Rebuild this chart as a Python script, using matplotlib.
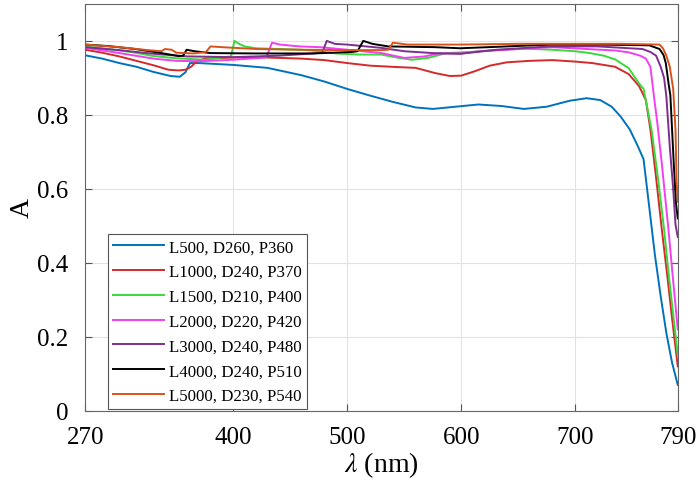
import matplotlib
matplotlib.use("Agg")
import matplotlib.pyplot as plt

plt.rcParams["font.family"] = ["Liberation Serif", "DejaVu Serif"]
plt.rcParams["mathtext.fontset"] = "stix"

# absorption spectra, one wavelength list and one absorbance list per structure
wl_l500 = [270, 285, 300, 315, 330, 345, 353, 358, 362, 370, 400, 430, 460, 480, 500,
           520, 540, 560, 575, 595, 615, 635, 655, 675, 695, 710, 722, 732, 740, 748,
           755, 760, 765, 770, 775, 780, 785, 790]
a_l500 = [0.961, 0.952, 0.94, 0.93, 0.916, 0.905, 0.903, 0.915, 0.94, 0.94, 0.935, 0.927,
          0.907, 0.89, 0.87, 0.852, 0.835, 0.82, 0.816, 0.822, 0.828, 0.824, 0.816, 0.822,
          0.838, 0.845, 0.84, 0.822, 0.795, 0.76, 0.715, 0.68, 0.55, 0.42, 0.31, 0.21,
          0.13, 0.07]

wl_l1000 = [270, 285, 300, 315, 330, 343, 352, 358, 363, 368, 375, 400, 430, 460, 480,
            500, 520, 545, 560, 577, 590, 600, 612, 625, 640, 660, 680, 700, 715, 735,
            747, 756, 762, 766, 771, 776, 781, 785, 790]
a_l1000 = [0.976, 0.968, 0.958, 0.946, 0.934, 0.922, 0.92, 0.922, 0.93, 0.945, 0.952,
           0.955, 0.955, 0.952, 0.948, 0.94, 0.933, 0.929, 0.927, 0.913, 0.905, 0.906,
           0.918, 0.933, 0.942, 0.946, 0.948, 0.944, 0.94, 0.93, 0.91, 0.878, 0.84, 0.76,
           0.63, 0.49, 0.36, 0.25, 0.12]

wl_l1500 = [270, 290, 310, 330, 350, 375, 390, 398, 401, 405, 410, 420, 440, 460, 476,
            490, 510, 530, 545, 557, 571, 587, 608, 630, 655, 680, 700, 713, 725, 735,
            747, 756, 760, 767, 773, 778, 782, 786, 790]
a_l1500 = [0.985, 0.978, 0.97, 0.959, 0.953, 0.949, 0.955, 0.958, 1.0, 0.992, 0.985,
           0.98, 0.978, 0.976, 0.972, 0.966, 0.963, 0.963, 0.954, 0.949, 0.954, 0.967,
           0.97, 0.975, 0.979, 0.976, 0.972, 0.967, 0.96, 0.95, 0.926, 0.885, 0.87, 0.76,
           0.62, 0.49, 0.37, 0.26, 0.15]

wl_l2000 = [270, 290, 310, 330, 350, 371, 400, 424, 429, 434, 441, 458, 476, 500, 530,
            550, 568, 580, 600, 616, 640, 660, 680, 710, 735, 747, 757, 762, 766, 769,
            772, 776, 782, 786, 790]
a_l2000 = [0.981, 0.972, 0.962, 0.952, 0.946, 0.945, 0.949, 0.954, 0.956, 0.995, 0.99,
           0.985, 0.983, 0.976, 0.967, 0.954, 0.958, 0.966, 0.966, 0.972, 0.976, 0.98,
           0.983, 0.978, 0.974, 0.969, 0.96, 0.952, 0.93, 0.853, 0.78, 0.668, 0.485,
           0.35, 0.22]

wl_l3000 = [270, 300, 330, 360, 400, 440, 470, 478, 482, 489, 500, 530, 550, 575, 599,
            631, 678, 720, 759, 766, 771, 775, 778, 780, 783, 786, 788, 790]
a_l3000 = [0.983, 0.975, 0.965, 0.958, 0.956, 0.96, 0.966, 0.968, 1.0, 0.992, 0.99,
           0.981, 0.972, 0.967, 0.965, 0.976, 0.985, 0.985, 0.978, 0.97, 0.96, 0.93,
           0.9, 0.85, 0.714, 0.6, 0.504, 0.47]

wl_l4000 = [270, 290, 314, 335, 352, 356, 359, 366, 380, 420, 470, 504, 509, 514, 522,
            536, 577, 599, 640, 678, 720, 765, 774, 777.5, 779.5, 782, 783.5, 786.5,
            788.5, 790]
a_l4000 = [0.99, 0.986, 0.978, 0.968, 0.959, 0.96, 0.976, 0.972, 0.967, 0.966, 0.966,
           0.97, 0.972, 1.0, 0.992, 0.985, 0.983, 0.98, 0.985, 0.99, 0.99, 0.988, 0.978,
           0.962, 0.94, 0.883, 0.853, 0.668, 0.56, 0.52]

wl_l5000 = [270, 300, 325, 337, 340, 346, 350, 365, 371, 376, 380, 390, 420, 460, 500,
            530, 536, 540, 553, 600, 650, 700, 740, 774, 777, 780, 783, 786, 788, 789,
            790]
a_l5000 = [0.99, 0.983, 0.975, 0.972, 0.978, 0.976, 0.968, 0.966, 0.968, 0.97, 0.985,
           0.983, 0.978, 0.976, 0.975, 0.975, 0.976, 0.995, 0.99, 0.99, 0.992, 0.992,
           0.992, 0.99, 0.98, 0.96, 0.93, 0.87, 0.76, 0.62, 0.565]

labels = ["L500, D260, P360", "L1000, D240, P370", "L1500, D210, P400",
          "L2000, D220, P420", "L3000, D240, P480", "L4000, D240, P510",
          "L5000, D230, P540"]
colors = ["#0072BD", "#D42A2A", "#3BD83B", "#F040F0", "#7E2F8E", "#000000", "#D95319"]

series = [(wl_l500, a_l500), (wl_l1000, a_l1000), (wl_l1500, a_l1500),
          (wl_l2000, a_l2000), (wl_l3000, a_l3000), (wl_l4000, a_l4000),
          (wl_l5000, a_l5000)]

fig = plt.figure(figsize=(6.98, 4.89), dpi=100)
ax = fig.add_axes([0.122, 0.158, 0.849, 0.832])

for (wl, a), lab, c in zip(series, labels, colors):
    ax.plot(wl, a, color=c, lw=1.4, label=lab)

ax.set_xlim(270, 790)
ax.set_ylim(0, 1.1)
ax.set_xticks([270, 400, 500, 600, 700, 790])
ax.set_yticks([0, 0.2, 0.4, 0.6, 0.8, 1])
ax.set_yticklabels(["0", "0.2", "0.4", "0.6", "0.8", "1"])

ax.grid(True, color="#e2e2e2", lw=0.8)
ax.tick_params(direction="in", top=True, right=True, labelsize=18, length=5,
               color="#555555")
ax.tick_params(axis="x", pad=11)
ax.tick_params(axis="y", pad=12)
for s in ax.spines.values():
    s.set_color("#666666")
    s.set_linewidth(0.8)

ax.set_xlabel(r"$\lambda$ (nm)", fontsize=20, labelpad=1)
ax.set_ylabel("A", fontsize=20, labelpad=2)

leg = ax.legend(loc="lower left", bbox_to_anchor=(0.038, 0.004), fontsize=12.2,
                handlelength=3.0, handletextpad=0.3, labelspacing=0.52,
                borderpad=0.3, fancybox=False, framealpha=1, borderaxespad=0)
leg.get_frame().set_edgecolor("#555555")
leg.get_frame().set_linewidth(0.8)

fig.savefig("out.png", dpi=100)
